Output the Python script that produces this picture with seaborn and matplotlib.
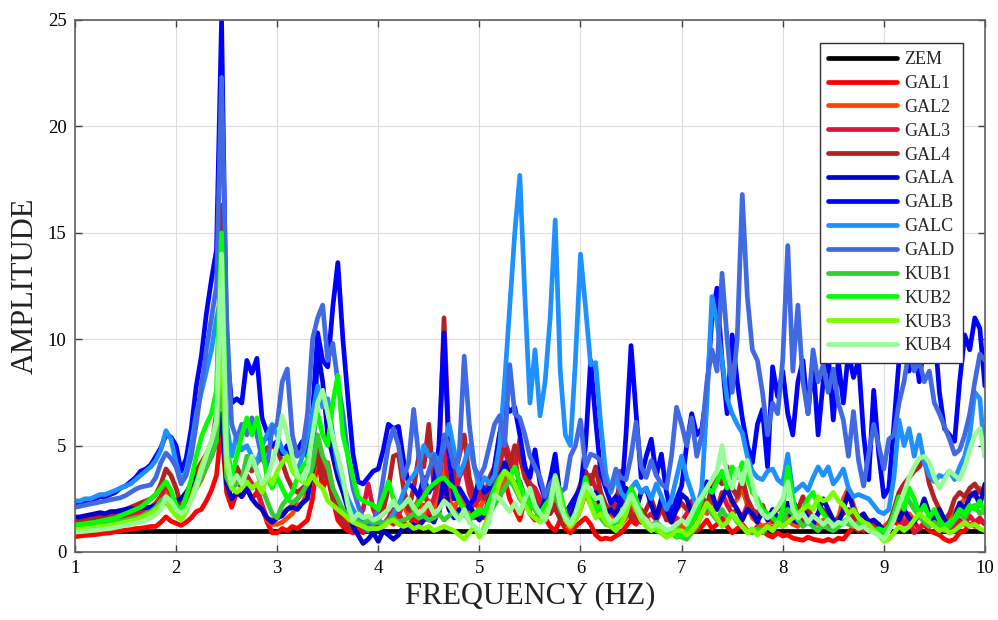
import numpy as np
import matplotlib
matplotlib.use("Agg")
import matplotlib.pyplot as plt
import seaborn as sns

# Frequency axis (Hz), 0.05 Hz resolution
freq = np.linspace(1.0, 10.0, 181)

# Reference station: flat unit ratio
zem_freq = [1.0, 10.0]
zem = [1.0, 1.0]

gal1 = [0.72, 0.75, 0.78, 0.8, 0.82, 0.85, 0.88, 0.9, 0.95, 1.0, 1.03, 1.05, 1.1, 1.12, 1.15, 1.2, 1.2, 1.4, 1.65, 1.45,
        1.35, 1.25, 1.4, 1.6, 1.9, 2.0, 2.4, 2.9, 3.6, 6.0, 2.8, 2.1, 2.8, 2.6, 3.0, 2.5, 2.8, 2.2, 1.4, 0.9,
        0.9, 1.1, 1.0, 1.2, 1.1, 1.3, 1.5, 2.5, 4.5, 3.0, 3.5, 2.5, 1.5, 1.2, 1.0, 0.9, 1.1, 0.9, 1.2, 1.0,
        1.3, 1.2, 1.5, 1.3, 1.8, 1.4, 1.2, 1.6, 1.4, 2.2, 1.5, 2.5, 1.8, 3.0, 2.0, 3.5, 2.5, 1.8, 2.2, 1.6,
        2.0, 1.6, 2.5, 3.0, 2.6, 3.4, 2.5, 2.0, 1.5, 2.5, 1.8, 1.5, 2.0, 1.6, 1.2, 1.0, 1.5, 1.1, 0.9, 1.2,
        1.4, 1.6, 1.3, 0.8, 0.6, 0.65, 0.6, 0.75, 0.9, 1.2, 1.5, 1.3, 1.8, 1.4, 1.1, 1.3, 1.0, 0.8, 0.9, 0.7,
        0.8, 1.0, 1.3, 1.0, 1.2, 1.5, 1.1, 1.3, 1.6, 1.2, 0.9, 1.1, 1.3, 1.0, 0.9, 1.2, 1.0, 0.8, 0.7, 0.9,
        0.75, 0.8, 0.65, 0.6, 0.55, 0.7, 0.6, 0.55, 0.5, 0.6, 0.5, 0.65, 0.6, 0.9, 1.2, 1.0, 1.3, 1.0, 1.2, 0.9,
        1.0, 1.2, 1.4, 1.3, 1.6, 1.2, 1.4, 1.1, 1.3, 1.0, 0.9, 0.8, 0.6, 0.5, 0.6, 0.9, 1.0, 1.3, 1.2, 1.5,
        1.3]

gal2 = [1.2, 1.2, 1.25, 1.3, 1.3, 1.35, 1.4, 1.45, 1.5, 1.55, 1.6, 1.7, 1.75, 1.8, 1.9, 2.0, 2.1, 2.3, 3.0, 2.5,
        2.0, 1.8, 2.2, 2.7, 3.0, 3.4, 4.0, 4.5, 5.5, 9.0, 3.5, 3.0, 3.5, 3.2, 3.5, 3.0, 3.2, 2.0, 1.5, 1.3,
        1.3, 1.4, 1.6, 1.8, 2.2, 2.3, 2.8, 3.5, 4.5, 3.8, 4.2, 3.0, 2.0, 1.6, 1.4, 1.5, 1.3, 1.6, 1.4, 1.5,
        1.6, 1.8, 2.0, 1.6, 1.8, 2.2, 1.7, 2.0, 2.5, 1.8, 2.4, 2.0, 3.0, 4.0, 2.5, 2.0, 2.6, 2.2, 1.8, 2.4,
        2.0, 2.5, 2.2, 3.0, 2.5, 3.5, 4.0, 4.5, 3.0, 2.5, 2.0, 2.6, 2.0, 1.6, 2.0, 2.4, 1.8, 1.3, 1.1, 1.5,
        2.0, 2.8, 2.2, 2.6, 2.0, 1.6, 1.8, 1.5, 1.3, 1.6, 2.2, 1.8, 1.4, 1.6, 1.2, 1.4, 0.9, 0.7, 0.9, 1.1,
        1.2, 1.0, 1.3, 1.8, 2.0, 1.8, 2.5, 2.0, 2.6, 3.0, 2.2, 2.5, 3.0, 2.2, 1.6, 1.4, 1.2, 1.3, 1.1, 1.4,
        1.2, 1.5, 1.3, 1.2, 1.5, 1.4, 1.6, 1.3, 1.5, 1.2, 1.4, 1.6, 2.5, 3.0, 2.2, 1.5, 1.3, 1.5, 1.2, 1.0,
        1.2, 1.4, 1.8, 2.0, 1.6, 1.8, 1.5, 1.7, 1.4, 1.6, 1.3, 1.5, 1.2, 1.6, 1.9, 2.2, 2.5, 2.8, 2.6, 3.0,
        2.8]

gal3 = [1.3, 1.3, 1.35, 1.4, 1.4, 1.45, 1.5, 1.55, 1.6, 1.65, 1.7, 1.8, 1.85, 1.9, 2.0, 2.1, 2.3, 2.6, 3.2, 2.7,
        2.3, 2.0, 2.3, 2.8, 3.2, 3.6, 4.2, 4.8, 6.0, 12.0, 4.0, 3.0, 3.4, 3.0, 3.6, 3.2, 3.0, 2.2, 1.6, 1.5,
        1.6, 1.8, 2.0, 2.2, 2.5, 2.8, 3.0, 3.8, 5.0, 4.0, 3.5, 2.8, 2.0, 1.5, 1.2, 1.4, 1.6, 2.0, 3.2, 2.0,
        1.5, 1.3, 1.6, 2.0, 1.7, 2.5, 2.0, 1.8, 2.2, 3.0, 2.0, 2.5, 3.5, 5.0, 3.0, 2.5, 3.5, 4.0, 2.8, 2.2,
        2.5, 3.0, 2.6, 3.2, 4.0, 5.2, 4.5, 3.8, 5.3, 4.0, 3.2, 3.0, 2.5, 2.0, 2.4, 2.0, 1.6, 1.8, 2.2, 2.6,
        2.5, 3.0, 3.6, 3.0, 2.4, 2.0, 1.8, 2.0, 3.8, 2.5, 1.8, 1.5, 2.0, 1.6, 1.8, 1.5, 2.0, 1.6, 1.4, 1.6,
        1.4, 1.8, 2.0, 1.6, 2.2, 2.0, 2.5, 2.0, 2.8, 2.2, 1.8, 2.0, 1.6, 2.2, 1.8, 1.5, 1.8, 1.6, 1.4, 1.5,
        1.6, 1.8, 1.5, 1.7, 1.4, 1.6, 1.3, 1.5, 1.2, 1.4, 1.2, 1.5, 1.3, 1.6, 1.3, 1.2, 1.0, 1.2, 1.4, 1.1,
        1.0, 1.2, 1.5, 1.8, 1.3, 1.6, 0.9, 1.1, 1.4, 1.2, 1.6, 1.3, 1.1, 0.9, 1.2, 1.5, 1.3, 1.7, 1.4, 1.6,
        1.3]

gal4 = [1.42, 1.45, 1.5, 1.55, 1.6, 1.65, 1.7, 1.75, 1.8, 1.9, 2.0, 2.1, 2.2, 2.3, 2.4, 2.5, 2.7, 3.2, 3.9, 3.6,
        3.0, 2.2, 2.6, 3.2, 3.8, 4.2, 4.6, 5.0, 6.5, 16.3, 5.0, 3.5, 4.0, 3.5, 4.0, 3.8, 4.2, 4.5, 4.9, 5.0,
        4.8, 4.2, 3.5, 3.0, 2.8, 3.0, 3.2, 3.8, 4.5, 3.5, 3.8, 2.5, 1.8, 1.4, 1.2, 1.0, 1.3, 1.1, 1.2, 1.4,
        1.5, 2.0, 3.0, 4.5, 4.6, 3.0, 2.0, 3.0, 4.5, 4.0, 6.0, 3.0, 4.0, 11.0, 5.0, 3.5, 4.5, 5.5, 3.5, 2.5,
        3.0, 2.5, 3.5, 4.0, 5.6, 4.8, 4.0, 5.0, 4.5, 3.5, 3.0, 2.5, 2.0, 2.5, 1.8, 2.2, 1.5, 1.3, 1.8, 2.5,
        3.2, 3.8, 3.2, 4.0, 2.8, 2.2, 2.0, 2.6, 3.0, 2.2, 1.6, 1.8, 1.4, 2.0, 2.5, 1.8, 2.2, 1.5, 1.7, 2.0,
        2.3, 2.0, 2.4, 2.0, 2.6, 2.2, 3.0, 3.5, 3.2, 4.0, 3.0, 2.6, 3.5, 2.5, 2.0, 1.8, 2.2, 1.6, 1.8, 2.0,
        2.2, 1.8, 2.4, 2.0, 2.6, 2.0, 1.6, 1.8, 2.0, 1.6, 1.4, 1.6, 1.8, 2.0, 1.6, 1.4, 1.6, 1.3, 1.5, 1.2,
        1.0, 1.3, 2.0, 2.8, 3.2, 3.5, 3.8, 4.0, 4.4, 3.2, 2.5, 2.0, 1.5, 1.8, 2.5, 2.8, 2.6, 3.0, 3.2, 2.8,
        3.0]

gala = [1.64, 1.65, 1.7, 1.75, 1.8, 1.85, 1.8, 1.9, 1.9, 1.95, 2.0, 2.05, 2.0, 2.05, 2.1, 2.1, 2.2, 2.3, 2.3, 2.35,
        2.4, 2.5, 2.8, 3.2, 3.5, 3.8, 4.2, 4.5, 5.2, 6.5, 3.2, 2.5, 2.8, 2.6, 3.0, 2.5, 2.2, 2.0, 1.6, 1.4,
        1.6, 1.7, 2.0, 2.1, 2.0, 2.3, 2.5, 4.0, 9.5, 8.0, 5.5, 4.5, 3.5, 2.8, 2.0, 1.2, 0.8, 0.4, 0.6, 0.9,
        0.5, 1.0, 0.8, 0.6, 0.8, 1.2, 1.0, 1.3, 1.2, 1.5, 1.6, 1.4, 2.0, 3.5, 2.0, 1.6, 2.0, 1.8, 2.2, 1.8,
        1.5, 1.8, 2.5, 3.0, 3.5, 4.2, 3.6, 3.2, 3.3, 2.5, 2.8, 2.2, 1.8, 2.5, 3.0, 4.0, 2.5, 1.5, 1.6, 2.2,
        2.5, 3.0, 2.5, 2.8, 2.2, 1.8, 2.0, 1.7, 2.5, 3.0, 2.6, 2.0, 2.8, 3.0, 2.2, 1.6, 2.5, 2.0, 1.4, 2.0,
        2.7, 2.5, 1.8, 2.0, 2.8, 3.3, 2.8, 2.0, 2.5, 3.0, 2.4, 2.0, 1.5, 2.0, 1.8, 1.4, 2.0, 1.5, 2.0, 1.6,
        1.7, 2.3, 1.5, 1.4, 2.0, 1.6, 1.3, 1.8, 2.5, 2.0, 1.5, 1.3, 2.0, 2.8, 2.0, 1.6, 1.8, 1.4, 1.5, 1.3,
        1.0, 1.2, 1.8, 1.5, 2.0, 1.6, 1.4, 1.8, 2.5, 1.8, 1.5, 2.0, 1.5, 1.3, 1.6, 2.3, 2.0, 2.6, 2.8, 2.2,
        3.2]

galb = [2.3, 2.3, 2.4, 2.4, 2.5, 2.6, 2.6, 2.7, 2.8, 3.0, 3.1, 3.3, 3.5, 3.8, 3.9, 4.1, 4.5, 4.9, 5.5, 5.4,
        5.0, 3.8, 4.4, 5.8, 7.8, 9.2, 11.2, 12.8, 14.2, 25.0, 9.5, 7.0, 7.2, 7.0, 9.0, 8.4, 9.1, 6.3, 5.6, 5.0,
        5.2, 4.6, 5.0, 4.4, 4.8, 5.2, 4.5, 6.5, 10.3, 9.0, 8.7, 11.5, 13.6, 10.0, 7.2, 4.6, 3.3, 3.2, 3.5, 3.8,
        3.9, 4.8, 6.0, 5.8, 5.9, 4.3, 3.2, 3.0, 2.6, 3.5, 2.8, 3.2, 5.0, 10.3, 4.5, 2.5, 3.0, 2.6, 2.2, 2.5,
        3.5, 2.8, 3.0, 4.0, 5.5, 7.0, 6.6, 6.8, 5.5, 4.0, 3.5, 4.8, 3.2, 2.5, 3.4, 4.6, 2.5, 1.8, 2.2, 2.6,
        3.0, 5.0, 9.0, 6.2, 3.7, 3.0, 2.3, 2.6, 2.2, 5.5, 9.7, 6.5, 3.5, 4.5, 5.3, 3.6, 4.6, 2.8, 1.8, 2.5,
        3.1, 5.0, 6.5, 5.5, 5.8, 7.5, 11.0, 12.4, 9.0, 6.5, 10.2, 8.0, 6.3, 5.0, 4.2, 6.0, 6.7, 4.0, 8.7, 7.3,
        8.5, 6.5, 5.5, 8.0, 9.0, 6.5, 9.0, 5.5, 8.0, 9.3, 6.2, 9.0, 7.0, 9.4, 8.2, 9.0, 5.5, 3.4, 7.6, 4.6,
        2.6, 3.0, 6.0, 9.0, 10.2, 8.5, 10.0, 8.0, 9.8, 9.0, 10.5, 7.5, 5.8, 5.5, 5.2, 8.0, 10.2, 9.5, 11.0, 10.5,
        7.8]

galc = [2.4, 2.4, 2.5, 2.5, 2.6, 2.7, 2.7, 2.8, 2.9, 3.0, 3.1, 3.2, 3.4, 3.6, 3.8, 4.0, 4.3, 4.8, 5.7, 5.3,
        4.2, 3.3, 3.8, 5.0, 6.5, 7.5, 8.5, 9.5, 11.0, 12.0, 6.0, 4.5, 5.5, 4.8, 5.0, 4.5, 4.2, 5.0, 5.5, 6.0,
        5.5, 4.8, 4.5, 4.0, 3.8, 4.5, 5.5, 6.5, 7.8, 6.8, 7.2, 5.5, 4.0, 3.2, 2.5, 2.0, 1.6, 1.2, 1.0, 1.3,
        1.5, 1.3, 1.4, 1.8, 2.2, 2.8, 3.3, 3.6, 4.0, 5.0, 4.5, 4.6, 4.2, 5.0, 6.0, 4.8, 3.6, 4.2, 5.0, 4.0,
        3.0, 3.5, 3.2, 3.6, 5.0, 8.0, 11.5, 15.0, 17.7, 12.0, 7.0, 9.5, 6.4, 8.0, 11.0, 15.6, 8.5, 5.5, 5.0, 9.0,
        14.0, 11.5, 8.8, 8.9, 6.0, 3.7, 2.8, 3.5, 2.8, 2.5, 3.0, 3.3, 2.8, 3.0, 2.5, 3.2, 2.6, 2.0, 2.5, 3.5,
        4.5, 3.5, 2.8, 2.0, 3.0, 7.0, 12.0, 10.8, 9.0, 7.2, 6.5, 6.0, 5.6, 4.5, 3.8, 3.5, 3.4, 3.8, 3.9, 3.4,
        3.2, 4.6, 2.8, 3.0, 3.2, 2.9, 3.5, 4.0, 3.6, 4.0, 3.2, 3.5, 3.9, 3.0, 2.6, 2.7, 2.6, 2.5, 2.2, 1.9,
        1.8, 2.0, 3.5, 6.2, 5.0, 5.8, 4.5, 5.5, 4.2, 3.6, 3.3, 3.6, 3.5, 3.8, 3.4, 4.0, 4.5, 5.5, 7.5, 7.2,
        4.5]

gald = [2.1, 2.15, 2.2, 2.25, 2.3, 2.35, 2.4, 2.45, 2.5, 2.55, 2.65, 2.8, 2.95, 3.05, 3.1, 3.15, 3.5, 4.2, 4.65, 4.4,
        4.0, 3.2, 3.6, 4.5, 6.0, 7.8, 9.5, 11.0, 12.5, 22.3, 11.0, 6.0, 5.3, 6.0, 5.5, 6.3, 5.5, 4.4, 4.0, 5.8,
        6.0, 8.0, 8.6, 5.5, 4.5, 4.8, 6.5, 10.0, 11.0, 11.6, 9.0, 9.8, 8.0, 6.5, 4.5, 3.0, 2.2, 1.5, 1.2, 1.5,
        2.0, 3.5, 5.0, 5.8, 5.0, 3.5, 4.2, 6.7, 4.5, 3.0, 3.8, 4.5, 3.5, 5.5, 5.0, 4.0, 4.5, 9.2, 6.0, 4.0,
        3.5, 4.0, 5.0, 6.0, 6.4, 5.0, 8.8, 6.5, 6.3, 5.5, 4.5, 4.0, 3.5, 2.6, 3.2, 3.5, 2.8, 3.0, 4.5, 5.0,
        6.2, 4.0, 4.6, 4.5, 4.3, 3.2, 3.0, 3.9, 3.5, 3.4, 4.5, 6.1, 4.0, 3.5, 4.3, 3.6, 3.2, 3.0, 4.5, 6.8,
        6.0, 5.0, 6.3, 4.5, 5.5, 8.0, 9.5, 8.5, 13.1, 10.0, 7.5, 10.0, 16.8, 12.0, 9.5, 9.0, 7.5, 5.5, 7.0, 6.5,
        9.0, 14.4, 8.5, 11.6, 8.0, 6.5, 9.5, 8.0, 8.8, 7.5, 8.6, 7.0, 6.2, 4.5, 6.6, 4.3, 3.1, 4.6, 6.0, 5.0,
        3.9, 5.3, 5.5, 7.0, 8.0, 9.5, 8.5, 9.0, 8.0, 8.5, 7.0, 6.5, 5.9, 5.3, 4.6, 4.8, 5.5, 6.5, 8.0, 9.3,
        9.0]

kub1 = [1.1, 1.12, 1.15, 1.18, 1.2, 1.25, 1.3, 1.35, 1.4, 1.45, 1.5, 1.55, 1.6, 1.65, 1.8, 1.9, 2.1, 2.4, 2.6, 2.3,
        1.9, 1.7, 2.0, 2.5, 3.0, 3.5, 4.0, 4.5, 5.2, 9.0, 3.5, 3.0, 3.2, 3.4, 4.5, 4.2, 3.8, 3.0, 2.4, 1.8,
        1.6, 2.2, 2.5, 2.3, 2.5, 2.8, 3.2, 4.0, 5.5, 4.5, 4.0, 3.0, 2.5, 2.0, 1.8, 1.5, 1.4, 1.3, 1.5, 1.4,
        1.4, 1.3, 1.5, 1.6, 1.4, 1.5, 1.6, 1.8, 1.6, 1.7, 1.5, 1.6, 1.8, 1.5, 1.7, 1.9, 1.6, 1.8, 1.5, 1.7,
        1.8, 2.0, 1.8, 2.2, 2.6, 3.0, 3.4, 3.0, 2.5, 2.2, 2.6, 2.0, 1.6, 1.8, 2.2, 2.8, 2.0, 1.6, 1.3, 1.8,
        2.2, 3.0, 2.5, 2.0, 1.6, 1.3, 1.2, 1.4, 1.8, 2.2, 2.5, 2.0, 1.5, 1.3, 1.2, 1.4, 1.2, 1.0, 0.9, 1.2,
        0.7, 0.6, 0.9, 1.2, 1.8, 2.2, 1.8, 1.5, 2.0, 1.6, 1.8, 1.4, 1.2, 1.0, 0.9, 1.1, 0.9, 1.2, 1.0, 1.3,
        1.5, 2.0, 1.8, 1.5, 1.2, 1.4, 1.2, 1.0, 1.3, 1.1, 1.0, 1.2, 1.4, 1.3, 1.2, 1.4, 1.2, 1.1, 1.0, 0.9,
        0.9, 1.2, 1.6, 2.2, 2.8, 2.4, 2.0, 1.7, 1.4, 1.2, 1.4, 1.2, 1.0, 1.2, 1.5, 1.8, 1.6, 2.0, 2.2, 1.8,
        2.0]

kub2 = [1.28, 1.3, 1.33, 1.37, 1.4, 1.45, 1.5, 1.55, 1.6, 1.7, 1.8, 1.9, 2.0, 2.1, 2.3, 2.5, 2.7, 3.0, 3.3, 2.9,
        2.2, 1.97, 2.6, 3.4, 4.5, 5.4, 6.0, 6.5, 7.6, 15.0, 5.0, 3.5, 4.5, 5.5, 6.3, 5.5, 6.3, 5.0, 3.5, 3.0,
        3.5, 3.0, 2.5, 2.8, 3.5, 4.0, 4.3, 5.5, 6.5, 5.5, 5.0, 7.0, 8.3, 5.5, 4.5, 3.5, 2.6, 2.4, 2.3, 2.2,
        2.0, 2.6, 3.3, 2.5, 2.0, 2.2, 2.5, 2.0, 2.3, 2.6, 3.0, 3.2, 3.4, 3.5, 3.2, 3.0, 2.4, 2.0, 1.6, 1.8,
        2.0, 1.8, 2.4, 3.0, 3.5, 3.8, 3.5, 4.0, 3.2, 2.6, 2.2, 2.0, 1.8, 2.2, 2.5, 3.5, 2.8, 1.8, 1.4, 1.8,
        2.4, 3.5, 2.5, 2.0, 2.2, 1.5, 1.2, 1.4, 1.6, 2.0, 3.0, 2.5, 1.8, 1.4, 1.2, 1.0, 0.9, 0.8, 0.9, 0.7,
        0.8, 1.0, 1.4, 1.8, 2.5, 3.0, 2.8, 3.3, 3.8, 3.0, 4.0, 3.5, 4.2, 3.5, 2.8, 2.5, 2.0, 1.8, 1.6, 1.4,
        2.0, 4.0, 2.5, 1.5, 2.0, 2.5, 2.8, 2.2, 1.8, 1.5, 1.3, 1.2, 1.4, 1.6, 1.3, 1.2, 1.4, 1.2, 1.0, 1.1,
        1.0, 1.2, 1.8, 2.6, 2.0, 3.0, 2.5, 1.8, 2.2, 1.6, 2.0, 1.5, 1.2, 1.4, 1.6, 2.0, 1.8, 2.2, 2.0, 2.4,
        1.8]

kub3 = [1.05, 1.07, 1.1, 1.12, 1.15, 1.2, 1.22, 1.25, 1.3, 1.35, 1.4, 1.45, 1.5, 1.6, 1.7, 1.8, 2.0, 2.2, 2.4, 2.0,
        1.7, 1.5, 1.9, 2.5, 3.2, 4.0, 4.6, 5.2, 6.0, 10.5, 4.0, 3.0, 2.8, 3.0, 3.3, 3.0, 3.2, 2.8, 3.6, 3.2,
        3.8, 4.2, 4.5, 3.8, 3.5, 3.3, 3.2, 3.6, 3.2, 3.0, 2.4, 2.2, 2.0, 1.8, 1.6, 1.4, 1.3, 1.2, 1.1, 1.1,
        1.1, 1.2, 1.4, 1.5, 1.3, 1.2, 1.3, 1.1, 1.2, 1.1, 1.2, 1.0, 1.1, 1.2, 1.1, 1.0, 0.8, 0.6, 0.9, 1.2,
        0.7, 1.2, 1.8, 2.5, 3.3, 3.8, 3.6, 3.2, 2.6, 2.2, 1.8, 1.6, 1.4, 1.8, 2.2, 3.6, 2.5, 1.5, 1.2, 1.5,
        2.0, 3.0, 2.2, 1.6, 1.8, 1.4, 1.2, 1.0, 1.3, 1.8, 2.6, 2.0, 1.5, 1.2, 1.0, 1.2, 0.9, 0.7, 0.8, 1.0,
        1.0, 0.8, 1.0, 1.3, 1.8, 2.3, 2.0, 1.6, 1.2, 1.4, 1.8, 1.5, 1.2, 0.9, 1.1, 0.8, 1.0, 1.2, 1.0, 1.4,
        1.2, 1.4, 1.6, 1.8, 2.0, 2.2, 2.0, 2.6, 2.4, 2.5, 2.8, 2.4, 2.2, 1.8, 2.0, 1.6, 1.4, 1.3, 1.0, 0.8,
        0.5, 0.6, 0.9, 1.2, 1.0, 1.2, 1.5, 1.8, 1.6, 1.4, 1.2, 1.0, 1.1, 0.9, 1.0, 1.2, 1.4, 1.2, 1.3, 1.1,
        1.0]

kub4 = [0.94, 0.95, 0.97, 1.0, 1.02, 1.05, 1.08, 1.1, 1.15, 1.2, 1.25, 1.3, 1.35, 1.4, 1.5, 1.6, 1.75, 2.0, 2.6, 2.4,
        2.0, 1.8, 2.0, 2.4, 3.0, 3.8, 4.5, 5.2, 6.2, 14.0, 4.5, 3.2, 3.6, 3.2, 3.8, 4.5, 3.8, 3.2, 3.5, 4.2,
        5.0, 6.4, 5.5, 4.5, 3.6, 3.4, 3.8, 5.5, 7.0, 7.6, 6.5, 5.4, 4.5, 3.5, 2.2, 1.5, 1.8, 1.6, 1.7, 1.5,
        1.6, 1.8, 2.0, 2.4, 2.0, 2.2, 2.5, 2.1, 1.8, 2.0, 2.3, 1.8, 2.0, 2.4, 2.2, 1.8, 1.5, 2.0, 1.4, 1.2,
        1.0, 0.9, 1.5, 2.7, 2.5, 2.2, 1.9, 2.3, 1.8, 2.5, 3.0, 2.2, 1.8, 1.5, 2.2, 3.5, 2.2, 1.6, 1.3, 1.8,
        2.6, 3.2, 2.9, 2.5, 2.6, 1.8, 1.4, 1.5, 1.8, 2.2, 2.7, 2.2, 1.7, 1.5, 1.2, 1.3, 1.2, 1.0, 1.1, 1.3,
        1.5, 1.3, 1.8, 2.3, 2.6, 3.0, 3.4, 3.8, 5.0, 3.6, 3.0, 3.9, 3.2, 4.3, 3.2, 2.2, 1.8, 1.6, 1.8, 2.1,
        2.5, 3.3, 2.0, 1.6, 1.8, 1.4, 1.7, 1.5, 1.3, 1.5, 1.2, 1.4, 1.3, 1.6, 1.3, 1.1, 1.2, 1.0, 0.9, 0.8,
        0.6, 1.0, 1.5, 2.2, 2.8, 3.5, 4.0, 4.4, 4.5, 4.2, 3.5, 3.0, 3.4, 3.8, 3.6, 3.4, 4.0, 4.8, 5.5, 5.8,
        4.5]

series = [
    ("ZEM", zem_freq, zem, "#000000"),
    ("GAL1", freq, gal1, "#FF0000"),
    ("GAL2", freq, gal2, "#FF4500"),
    ("GAL3", freq, gal3, "#DC143C"),
    ("GAL4", freq, gal4, "#B22222"),
    ("GALA", freq, gala, "#0000CD"),
    ("GALB", freq, galb, "#0000FF"),
    ("GALC", freq, galc, "#1E90FF"),
    ("GALD", freq, gald, "#4169E1"),
    ("KUB1", freq, kub1, "#32CD32"),
    ("KUB2", freq, kub2, "#00FF00"),
    ("KUB3", freq, kub3, "#7CFC00"),
    ("KUB4", freq, kub4, "#98FB98"),
]

for name, x, y, _ in series:
    if len(x) != len(y):
        raise ValueError(f"{name}: {len(x)} frequencies vs {len(y)} amplitudes")

sns.set_theme(style="whitegrid")
plt.rcParams["font.family"] = ["Liberation Serif", "DejaVu Serif"]

fig = plt.figure(figsize=(9.98, 6.2), dpi=100)
ax = fig.add_axes([0.0751, 0.1097, 0.9118, 0.8581])

for name, x, y, color in series:
    sns.lineplot(x=x, y=y, color=color, linewidth=3.4, label=name, ax=ax,
                 estimator=None, sort=False)

ax.set_xlim(1, 10)
ax.set_ylim(0, 25)
ax.set_xticks(range(1, 11))
ax.set_yticks(range(0, 26, 5))
ax.grid(True, color="#dcdcdc", linewidth=0.8)
ax.tick_params(direction="in", bottom=True, left=True, top=True, right=True,
               length=5, width=1, color="#404040", labelsize=13.5,
               labelcolor="black", pad=6)
for spine in ax.spines.values():
    spine.set_color("#606060")
    spine.set_linewidth(1.2)

ax.set_xlabel("FREQUENCY (HZ)", fontsize=22, color="#222222", labelpad=3)
ax.set_ylabel("AMPLITUDE", fontsize=22, color="#222222", labelpad=6)

leg = ax.legend(loc="upper right", bbox_to_anchor=(0.9758, 0.9568),
                borderaxespad=0, frameon=True, fancybox=False, framealpha=1,
                edgecolor="#303030", fontsize=13, handlelength=3.8,
                handletextpad=0.45, labelspacing=0.38, borderpad=0.45)
leg.get_frame().set_linewidth(1.0)

fig.savefig("out.png", dpi=100)
